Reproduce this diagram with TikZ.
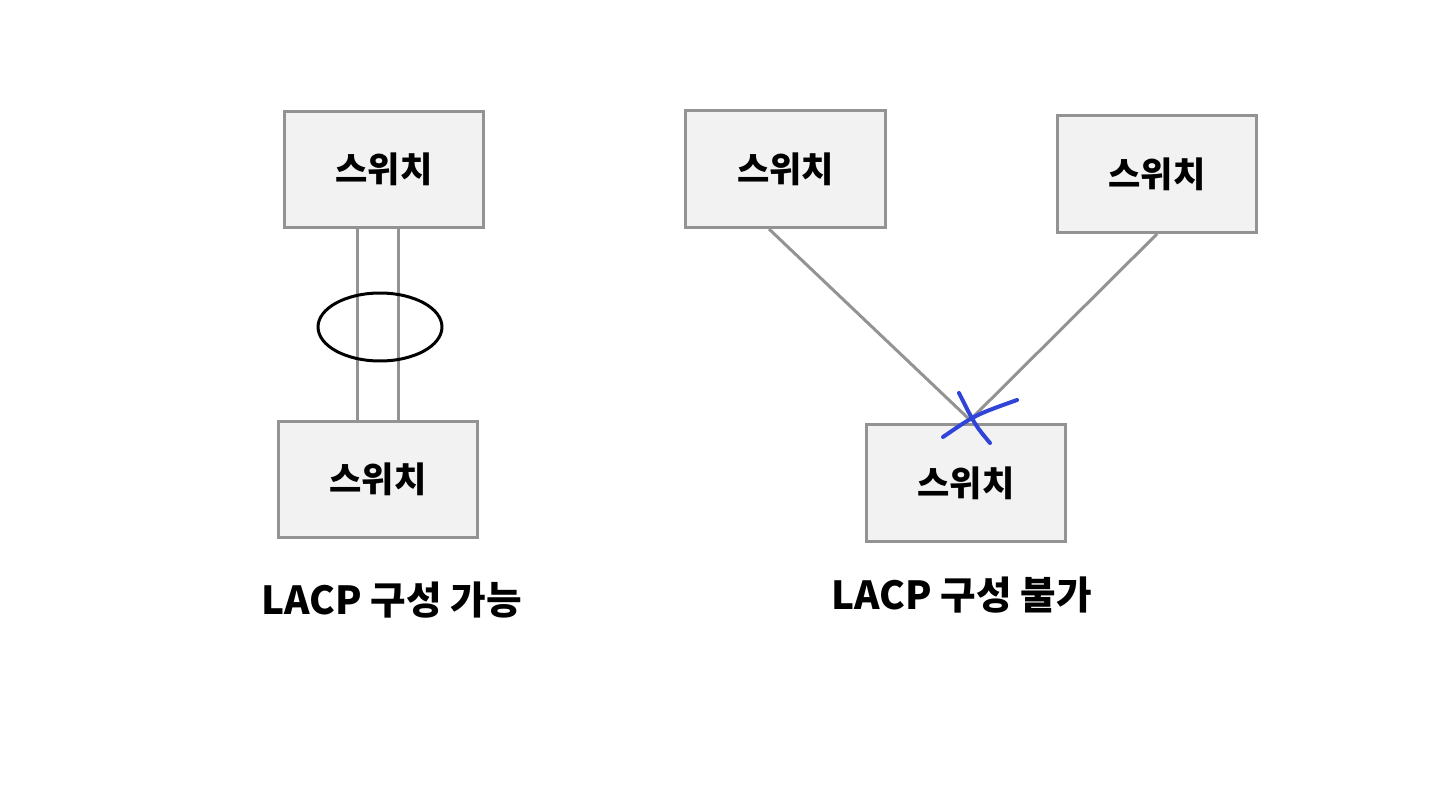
\documentclass[tikz,border=0pt]{standalone}
\usepackage{fontspec}
\setmainfont{Noto Sans CJK KR}
\usetikzlibrary{shapes.geometric}
\definecolor{boxfill}{HTML}{F2F2F2}
\definecolor{boxline}{HTML}{939393}
\definecolor{crossblue}{HTML}{3044D8}
\newcommand{\sw}{스위치}

\begin{document}
\begin{tikzpicture}[x=0.02cm,y=-0.02cm,
    switch/.style={draw=boxline,fill=boxfill,line width=0.06cm,minimum width=4cm,minimum height=2.34cm,font=\fontsize{20}{24}\selectfont\bfseries},
    link/.style={draw=boxline,line width=0.06cm},
    caption/.style={font=\fontsize{22}{26}\selectfont\bfseries}]
    \useasboundingbox[fill=white] (0,0) rectangle (1440,811);
    % left side
    \node[switch] (sw1) at (384,169.5) {\sw};
    \node[switch] (sw2) at (378,479.5) {\sw};
    \draw[link] ([xshift=-0.54cm]sw1.south) -- ([xshift=-0.54cm]sw1.south |- sw2.north);
    \draw[link] ([xshift=0.28cm]sw1.south) -- ([xshift=0.28cm]sw1.south |- sw2.north);
    \node[ellipse,draw=black,line width=0.06cm,minimum width=2.48cm,minimum height=1.36cm] (lag) at (380,327) {};
    \node[caption] (cap1) at (392,600) {LACP 구성 가능};
    % right side
    \node[switch] (sw3) at (785.5,169) {\sw};
    \node[switch] (sw4) at (1157,174) {\sw};
    \node[switch] (sw5) at (966,483) {\sw};
    \coordinate (meet) at (970,420);
    \draw[link] ([xshift=-0.33cm]sw3.south) -- (meet);
    \draw[link] (sw4.south) -- (meet);
    \draw[crossblue,line width=0.08cm,line cap=round] (943,437) .. controls (975,415) .. (1017,400);
    \draw[crossblue,line width=0.08cm,line cap=round] (959,393) .. controls (975,425) .. (990,443);
    \node[caption] (cap2) at (962,595) {LACP 구성 불가};
\end{tikzpicture}
\end{document}
